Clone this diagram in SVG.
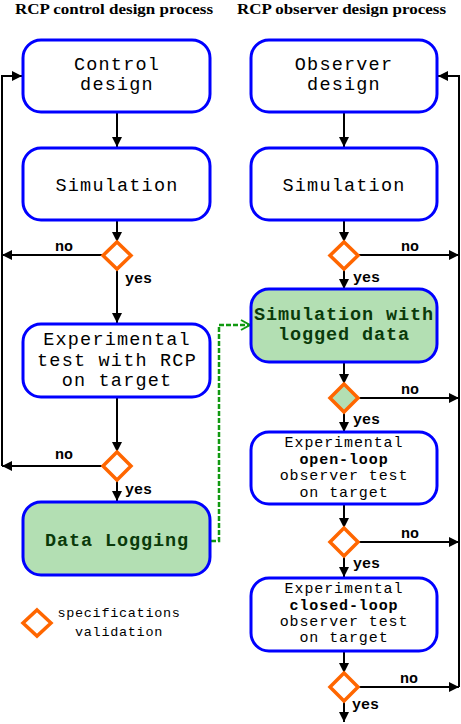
<svg xmlns="http://www.w3.org/2000/svg" width="461" height="724" viewBox="0 0 461 724">
<style>
.box{fill:#fff;stroke:#0000ff;stroke-width:3}
.gbox{fill:#b3dfb3;stroke:#0000ff;stroke-width:3}
.dia{fill:#fff;stroke:#ff6600;stroke-width:3.5}
.gdia{fill:#b3dfb3;stroke:#ff6600;stroke-width:3.5}
.ln{fill:none;stroke:#000;stroke-width:2}
.title{font-family:"Liberation Serif",serif;font-weight:bold;font-size:15.5px;fill:#000}
.t{font-family:"Liberation Mono",monospace;font-size:18.5px;letter-spacing:1.2px;fill:#000;text-anchor:middle}
.tb{font-family:"Liberation Mono",monospace;font-size:18.5px;font-weight:bold;letter-spacing:0.9px;fill:#0a3a0a;text-anchor:middle}
.s{font-family:"Liberation Mono",monospace;font-size:15px;letter-spacing:0.9px;fill:#000;text-anchor:middle}
.sb{font-family:"Liberation Mono",monospace;font-size:15px;font-weight:bold;letter-spacing:0.9px;fill:#000;text-anchor:middle}
.lab{font-family:"Liberation Mono",monospace;font-size:15px;font-weight:bold;fill:#000}
.leg{font-family:"Liberation Mono",monospace;font-size:13.5px;letter-spacing:0.7px;fill:#000;text-anchor:middle}
</style>
<defs>
<marker id="ah" markerWidth="10" markerHeight="10" refX="10" refY="5" orient="auto" markerUnits="userSpaceOnUse">
<path d="M0,0 L10,5 L0,10 Z" fill="#000"/>
</marker>
<marker id="gh" markerWidth="12" markerHeight="12" refX="11" refY="6" orient="auto" markerUnits="userSpaceOnUse">
<path d="M2,1 L11,6 L2,11" fill="none" stroke="#119911" stroke-width="2"/>
</marker>
</defs>

<text class="title" x="15" y="14" textLength="198" lengthAdjust="spacingAndGlyphs">RCP control design process</text>
<text class="title" x="237" y="14" textLength="209" lengthAdjust="spacingAndGlyphs">RCP observer design process</text>

<g id="connectors">
<line class="ln" x1="117" y1="113" x2="117" y2="147" marker-end="url(#ah)"/>
<line class="ln" x1="117" y1="221" x2="117" y2="242" marker-end="url(#ah)"/>
<line class="ln" x1="117" y1="269" x2="117" y2="323" marker-end="url(#ah)"/>
<line class="ln" x1="117" y1="398" x2="117" y2="452" marker-end="url(#ah)"/>
<line class="ln" x1="117" y1="480" x2="117" y2="501" marker-end="url(#ah)"/>
<line class="ln" x1="103" y1="255" x2="2" y2="255" marker-end="url(#ah)"/>
<line class="ln" x1="103" y1="466" x2="2" y2="466" marker-end="url(#ah)"/>
<polyline class="ln" points="2,466 2,76 22,76" marker-end="url(#ah)"/>

<line class="ln" x1="344" y1="113" x2="344" y2="147" marker-end="url(#ah)"/>
<line class="ln" x1="344" y1="221" x2="344" y2="242" marker-end="url(#ah)"/>
<line class="ln" x1="344" y1="269" x2="344" y2="289" marker-end="url(#ah)"/>
<line class="ln" x1="344" y1="363" x2="344" y2="384" marker-end="url(#ah)"/>
<line class="ln" x1="344" y1="412" x2="344" y2="432" marker-end="url(#ah)"/>
<line class="ln" x1="344" y1="505" x2="344" y2="528" marker-end="url(#ah)"/>
<line class="ln" x1="344" y1="556" x2="344" y2="577" marker-end="url(#ah)"/>
<line class="ln" x1="344" y1="652" x2="344" y2="673" marker-end="url(#ah)"/>
<line class="ln" x1="344" y1="701" x2="344" y2="722" marker-end="url(#ah)"/>
<line class="ln" x1="358" y1="255" x2="459" y2="255" marker-end="url(#ah)"/>
<line class="ln" x1="358" y1="398" x2="459" y2="398" marker-end="url(#ah)"/>
<line class="ln" x1="358" y1="542" x2="459" y2="542" marker-end="url(#ah)"/>
<line class="ln" x1="358" y1="687" x2="459" y2="687" marker-end="url(#ah)"/>
<polyline class="ln" points="459,687 459,76 438,76" marker-end="url(#ah)"/>

<polyline points="211,541 219,541 219,325 250,325" fill="none" stroke="#119911" stroke-width="2.5" stroke-dasharray="5,2" marker-end="url(#gh)"/>

<text class="lab" x="55" y="251">no</text>
<text class="lab" x="125" y="283">yes</text>
<text class="lab" x="55" y="459">no</text>
<text class="lab" x="125" y="494">yes</text>
<text class="lab" x="401" y="251">no</text>
<text class="lab" x="353" y="282">yes</text>
<text class="lab" x="401" y="394">no</text>
<text class="lab" x="353" y="424">yes</text>
<text class="lab" x="401" y="538">no</text>
<text class="lab" x="353" y="568">yes</text>
<text class="lab" x="400" y="683">no</text>
<text class="lab" x="352" y="709">yes</text>
</g>

<g id="control-design">
<rect class="box" x="23" y="40" width="187" height="72" rx="18"/>
<text class="t" x="117" y="70">Control</text>
<text class="t" x="117" y="90">design</text>
</g>
<g id="simulation-left">
<rect class="box" x="23" y="148" width="187" height="72" rx="18"/>
<text class="t" x="117" y="191">Simulation</text>
</g>
<g id="decision-l1"><path class="dia" d="M117,242 L131,255.5 L117,269 L103,255.5 Z"/></g>
<g id="experimental-rcp">
<rect class="box" x="23" y="324" width="187" height="73" rx="18"/>
<text class="t" x="117" y="345">Experimental</text>
<text class="t" x="117" y="366">test with RCP</text>
<text class="t" x="117" y="386">on target</text>
</g>
<g id="decision-l2"><path class="dia" d="M117,452 L131,466 L117,480 L103,466 Z"/></g>
<g id="data-logging">
<rect class="gbox" x="23" y="502" width="187" height="73" rx="18"/>
<text class="tb" x="117" y="546">Data Logging</text>
</g>
<g id="legend">
<path class="dia" d="M37,610 L51,623 L37,636 L23,623 Z"/>
<text class="leg" x="119" y="617">specifications</text>
<text class="leg" x="119" y="636">validation</text>
</g>

<g id="observer-design">
<rect class="box" x="251" y="40" width="186" height="72" rx="18"/>
<text class="t" x="344" y="70">Observer</text>
<text class="t" x="344" y="90">design</text>
</g>
<g id="simulation-right">
<rect class="box" x="251" y="148" width="186" height="72" rx="18"/>
<text class="t" x="344" y="191">Simulation</text>
</g>
<g id="decision-r1"><path class="dia" d="M344,242 L358,255.5 L344,269 L330,255.5 Z"/></g>
<g id="simulation-logged">
<rect class="gbox" x="251" y="289" width="186" height="73" rx="18"/>
<text class="tb" x="344" y="320">Simulation with</text>
<text class="tb" x="344" y="340">logged data</text>
</g>
<g id="decision-r2"><path class="gdia" d="M344,384 L358,398 L344,412 L330,398 Z"/></g>
<g id="open-loop-test">
<rect class="box" x="251" y="432" width="186" height="72" rx="18"/>
<text class="s" x="344" y="447">Experimental</text>
<text class="sb" x="344" y="464">open-loop</text>
<text class="s" x="344" y="480">observer test</text>
<text class="s" x="344" y="497">on target</text>
</g>
<g id="decision-r3"><path class="dia" d="M344,528 L358,542 L344,556 L330,542 Z"/></g>
<g id="closed-loop-test">
<rect class="box" x="251" y="578" width="186" height="73" rx="18"/>
<text class="s" x="344" y="593">Experimental</text>
<text class="sb" x="344" y="610">closed-loop</text>
<text class="s" x="344" y="626">observer test</text>
<text class="s" x="344" y="642">on target</text>
</g>
<g id="decision-r4"><path class="dia" d="M344,673 L358,687 L344,701 L330,687 Z"/></g>
</svg>
